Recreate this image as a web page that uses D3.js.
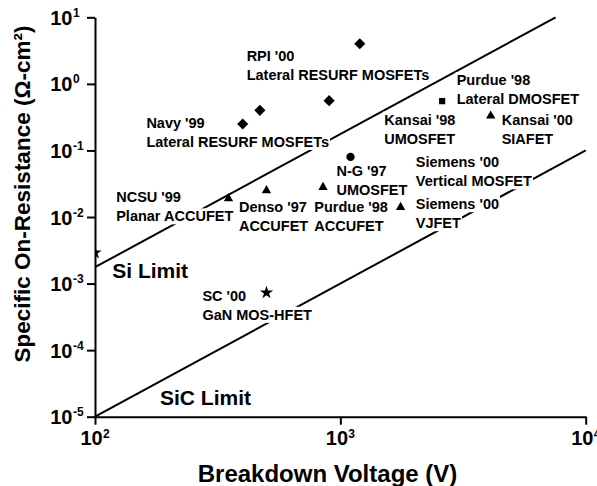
<!DOCTYPE html>
<html>
<head>
<meta charset="utf-8">
<script src="https://cdn.jsdelivr.net/npm/d3@7"></script>
<style>
body { margin: 0; background: #fff; }
svg { display: block; font-family: "Liberation Sans", Arial, sans-serif; font-weight: bold; }
</style>
</head>
<body>
<svg id="chart" width="597" height="486"></svg>
<script>
// axis ticks (powers of ten)
const xTicks = [100, 1000, 10000];
const xTickExp = ['2', '3', '4'];
const yTicks = [1e-5, 1e-4, 1e-3, 1e-2, 1e-1, 1, 10];
const yTickExp = ['-5', '-4', '-3', '-2', '-1', '0', '1'];

// devices: [breakdown voltage (V), specific on-resistance (ohm-cm2)]
const diamondPts = [[400, 0.25], [470, 0.4], [900, 0.56], [1200, 4]];
const squarePts = [[2600, 0.55]];
const trianglePts = [[350, 0.019], [500, 0.025], [850, 0.028], [1760, 0.014], [4100, 0.33]];
const circlePts = [[1100, 0.08]];
const starPts = [[100, 2.9e-3], [500, 7.3e-4]];

// theoretical limits
const siLimit = [[100, 1.76e-3], [7540, 10]];
const sicLimit = [[100, 1e-5], [10000, 0.1]];

// annotations, anchored in data coordinates (first line baseline)
const labelLines = [
	["RPI '00", "Lateral RESURF MOSFETs"],
	["Navy '99", "Lateral RESURF MOSFETs"],
	["Purdue '98", "Lateral DMOSFET"],
	["Kansai '98", "UMOSFET"],
	["Kansai '00", "SIAFET"],
	["N-G '97", "UMOSFET"],
	["Siemens '00", "Vertical MOSFET"],
	["Siemens '00", "VJFET"],
	["Purdue '98", "ACCUFET"],
	["Denso '97", "ACCUFET"],
	["NCSU '99", "Planar ACCUFET"],
	["SC '00", "GaN MOS-HFET"]
];
const labelAt = [[415, 2.21], [162, 0.217], [2980, 0.962], [1510, 0.245], [4545, 0.245], [964, 0.0418],
	[2030, 0.0558], [2030, 0.0131], [783, 0.0118], [386, 0.0118], [122, 0.0166], [274, 5.5e-4]];

const limitNames = ['Si Limit', 'SiC Limit'];
const limitLabelAt = [[117.6, 1.2e-3], [184, 1.5e-5]];

const plotLeft = 95, plotRight = 585.7, plotTop = 17.3, plotBottom = 416.7;

const xScale = d3.scaleLog().domain([100, 10000]).range([plotLeft, plotRight]);
const yScale = d3.scaleLog().domain([1e-5, 10]).range([plotBottom, plotTop]);

const svg = d3.select('#chart');

svg.append('defs').append('clipPath')
	.attr('id', 'plot-clip')
	.append('rect')
	.attr('x', plotLeft)
	.attr('y', plotTop - 1)
	.attr('width', plotRight - plotLeft + 2)
	.attr('height', plotBottom - plotTop + 1);

const line = d3.line()
	.x(d => xScale(d[0]))
	.y(d => yScale(d[1]));

const lines = svg.append('g').attr('clip-path', 'url(#plot-clip)');
[siLimit, sicLimit].forEach(pts => {
	lines.append('path')
		.attr('d', line(pts))
		.attr('fill', 'none')
		.attr('stroke', 'black')
		.attr('stroke-width', 2);
});

// labels with opaque white boxes
const bgLayer = svg.append('g');
const textLayer = svg.append('g');
const lineGap = 19;

labelLines.forEach((rows, i) => {
	const x = xScale(labelAt[i][0]);
	const y = yScale(labelAt[i][1]);
	rows.forEach((row, j) => {
		const t = textLayer.append('text')
			.attr('x', x)
			.attr('y', y + j * lineGap)
			.style('font-size', '14.5px')
			.text(row);
		const b = t.node().getBBox();
		bgLayer.append('rect')
			.attr('x', b.x - 1)
			.attr('y', b.y)
			.attr('width', b.width + 2)
			.attr('height', b.height)
			.attr('fill', 'white');
	});
});

limitNames.forEach((name, i) => {
	textLayer.append('text')
		.attr('x', xScale(limitLabelAt[i][0]))
		.attr('y', yScale(limitLabelAt[i][1]))
		.style('font-size', '21px')
		.text(name);
});

// markers
const markers = svg.append('g').attr('clip-path', 'url(#plot-clip)');
const drawSymbols = (pts, type, size, rotate) => {
	markers.selectAll(null)
		.data(pts)
		.enter()
		.append('path')
		.attr('d', d3.symbol().type(type).size(size))
		.attr('transform', d => 'translate(' + xScale(d[0]) + ',' + yScale(d[1]) + ')' + (rotate ? ' rotate(' + rotate + ')' : ''))
		.attr('fill', 'black');
};
drawSymbols(diamondPts, d3.symbolSquare, 62, 45);
drawSymbols(squarePts, d3.symbolSquare, 38);
drawSymbols(trianglePts, d3.symbolTriangle, 38);
drawSymbols(circlePts, d3.symbolCircle, 55);
drawSymbols(starPts, d3.symbolStar, 55);

// axes
const xAxis = d3.axisBottom(xScale)
	.tickValues(xTicks)
	.tickFormat('')
	.tickSize(8)
	.tickSizeOuter(0);
const yAxis = d3.axisLeft(yScale)
	.tickValues(yTicks)
	.tickFormat('')
	.tickSize(8)
	.tickSizeOuter(0);

const gx = svg.append('g')
	.attr('transform', 'translate(0,' + plotBottom + ')')
	.call(xAxis);
const gy = svg.append('g')
	.attr('transform', 'translate(' + plotLeft + ',0)')
	.call(yAxis);

[gx, gy].forEach(g => {
	g.select('.domain').attr('stroke-width', 2);
	g.selectAll('.tick line').attr('stroke-width', 2);
});

gx.selectAll('.tick').each(function (d, i) {
	const g = d3.select(this);
	g.append('text')
		.attr('x', -15)
		.attr('y', 28)
		.attr('fill', 'black')
		.attr('text-anchor', 'start')
		.style('font-size', '20px')
		.text('10');
	g.append('text')
		.attr('x', 7.5)
		.attr('y', 21)
		.attr('fill', 'black')
		.attr('text-anchor', 'start')
		.style('font-size', '12px')
		.text(xTickExp[i]);
});

gy.selectAll('.tick').each(function (d, i) {
	const g = d3.select(this);
	g.append('text')
		.attr('x', -22.5)
		.attr('y', 7)
		.attr('fill', 'black')
		.attr('text-anchor', 'end')
		.style('font-size', '20px')
		.text('10');
	g.append('text')
		.attr('x', -22)
		.attr('y', -1)
		.attr('fill', 'black')
		.attr('text-anchor', 'start')
		.style('font-size', '12px')
		.text(yTickExp[i]);
});

svg.append('text')
	.attr('x', 327.5)
	.attr('y', 482)
	.attr('text-anchor', 'middle')
	.style('font-size', '24px')
	.text('Breakdown Voltage (V)');

svg.append('text')
	.attr('transform', 'translate(30,194) rotate(-90)')
	.attr('text-anchor', 'middle')
	.style('font-size', '22.5px')
	.text('Specific On-Resistance (\u03A9-cm\u00B2)');
</script>
</body>
</html>
